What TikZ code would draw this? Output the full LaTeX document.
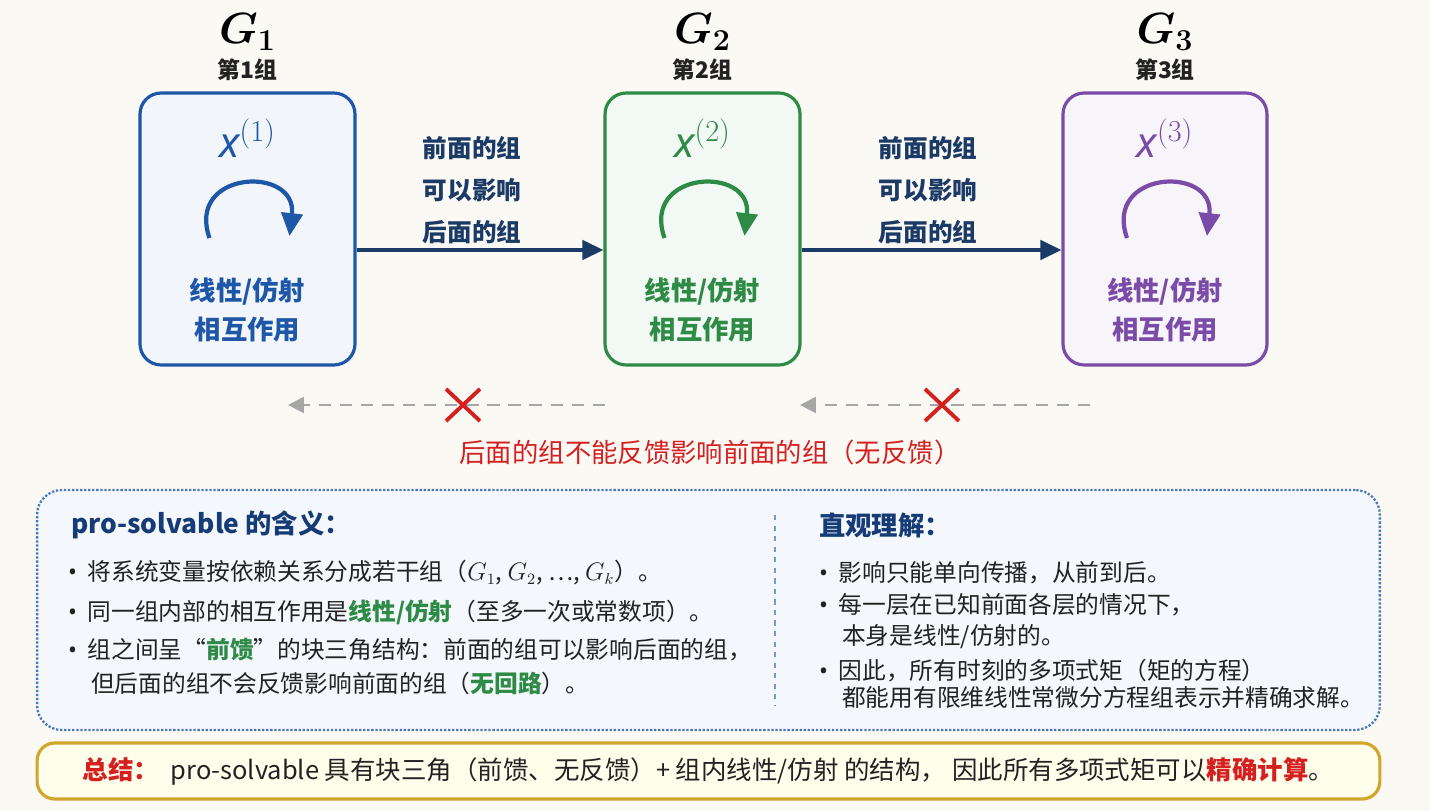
\documentclass[tikz,border=0pt]{standalone}
\usepackage{amsmath}
\usepackage{fontspec}
\setmainfont{Noto Sans CJK SC}
\newfontfamily\lat{Noto Sans}
\usetikzlibrary{arrows.meta}
\definecolor{bg}{HTML}{FAF9F4}
\definecolor{cb}{HTML}{1E56A8}
\definecolor{cg}{HTML}{2E8B46}
\definecolor{cp}{HTML}{7B4BA8}
\definecolor{navy}{HTML}{1B3A66}
\definecolor{dred}{HTML}{D42020}
\definecolor{txt}{HTML}{222222}
\newcommand{\bul}{{\lat\textbullet}\ \ }
\begin{document}
\begin{tikzpicture}[x=0.02cm,y=-0.02cm,
 grp/.style={draw=#1,line width=1.8pt,rounded corners=12pt,fill=#1!6},
 ttl/.style={font=\fontsize{24}{26}\selectfont},
 sub/.style={font=\bfseries\fontsize{13}{15}\selectfont,text=txt},
 var/.style={text=#1,font=\lat\itshape\fontsize{24}{26}\selectfont},
 inner/.style={text=#1,font=\bfseries\fontsize{15}{22}\selectfont,align=center},
 lab/.style={text=navy,font=\bfseries\fontsize{14}{24}\selectfont,align=center},
 flow/.style={navy,line width=2.2pt,-{Triangle[length=12pt,width=11pt]}},
 back/.style={gray!70,line width=1.5pt,dash pattern=on 7pt off 5pt,-{Triangle[length=9pt,width=9pt]}},
 bl/.style={anchor=west,text=txt,font=\fontsize{13.5}{17}\selectfont},
 hd/.style={anchor=west,text=cb!70!black,font=\bfseries\fontsize{15}{17}\selectfont}]
\fill[bg] (0,0) rectangle (1430,811);
\useasboundingbox (0,0) rectangle (1430,811);
% groups
\foreach \n/\xa/\xb/\c/\i in {a/140/355/cb/1,b/605/800/cg/2,c/1063/1267/cp/3}{
 \node[grp=\c,minimum width={(\xb-\xa)*0.02cm},minimum height=5.44cm] (\n) at ({(\xa+\xb)/2},229) {};
 \node[ttl] (t\n) at ({(\xa+\xb)/2},32) {$\boldsymbol{G_{\i}}$};
 \node[sub] (s\n) at ({(\xa+\xb)/2},70) {第\i 组};
 \node[var=\c] (v\n) at ({(\xa+\xb)/2},138) {x$^{(\i)}$};
 \node[inner=\c] (i\n) at ({(\xa+\xb)/2},310) {线性/仿射\\相互作用};
 \coordinate (l\n) at ({(\xa+\xb)/2-38},238);
 \coordinate (m\n) at ({(\xa+\xb)/2+42},236);
 \draw[\c,line width=2.4pt,-{Triangle[length=13pt,width=12pt]}] (l\n) .. controls ({(\xa+\xb)/2-62},170) and ({(\xa+\xb)/2+50},165) .. (m\n);
}
\draw[flow] (a.east|-0,250) -- (b.west|-0,250);
\draw[flow] (b.east|-0,250) -- (c.west|-0,250);
\node[lab] (f1) at (472,190) {前面的组\\可以影响\\后面的组};
\node[lab] (f2) at (928,190) {前面的组\\可以影响\\后面的组};
% no feedback
\coordinate (p1) at (605,405); \coordinate (q1) at (288,405);
\coordinate (p2) at (1090,405); \coordinate (q2) at (800,405);
\draw[back] (p1) -- (q1);
\draw[back] (p2) -- (q2);
\foreach \x/\n in {463/x1,942/x2}{
 \node (\n) at (\x,405) {};
 \draw[dred,line width=2.2pt] (\x-17,389) -- (\x+17,421) (\x-17,421) -- (\x+17,389);}
\node[text=dred,font=\fontsize{15}{17}\selectfont] (nf) at (710,452) {后面的组不能反馈影响前面的组（无反馈）};
% panel
\node[draw=cb!80,densely dotted,line width=1.3pt,rounded corners=14pt,fill=cb!5,minimum width=26.86cm,minimum height=4.8cm] (panel) at (708.5,610) {};
\draw[cb!60,dashed,line width=1pt] (775,515) -- (775,705);
\node[hd] (h1) at (65,525) {pro-solvable 的含义：};
\node[hd] (h2) at (813,525) {直观理解：};
\node[bl] (b1) at (62,573) {\bul 将系统变量按依赖关系分成若干组（$G_1$, $G_2$, \dots, $G_k$）。};
\node[bl] (b2) at (62,612) {\bul 同一组内部的相互作用是\textbf{\color{cg}线性/仿射}（至多一次或常数项）。};
\node[bl] (b3) at (62,650) {\bul 组之间呈“\textbf{\color{cg}前馈}”的块三角结构：前面的组可以影响后面的组，};
\node[bl] (b4) at (85,683) {但后面的组不会反馈影响前面的组（\textbf{\color{cg}无回路}）。};
\node[bl] (r1) at (813,573) {\bul 影响只能单向传播，从前到后。};
\node[bl] (r2) at (813,605) {\bul 每一层在已知前面各层的情况下，};
\node[bl] (r3) at (836,637) {本身是线性/仿射的。};
\node[bl] (r4) at (813,671) {\bul 因此，所有时刻的多项式矩（矩的方程）};
\node[bl] (r5) at (836,697) {都能用有限维线性常微分方程组表示并精确求解。};
% summary
\node[draw=brown!70!yellow,line width=1.8pt,rounded corners=10pt,fill=yellow!8,minimum width=26.86cm,minimum height=1.12cm] (sum) at (708.5,771) {};
\node[text=txt,font=\fontsize{14.5}{17}\selectfont] (st) at (708.5,771) {\textbf{\color{dred}总结：}\ \ pro-solvable 具有块三角（前馈、无反馈）+ 组内线性/仿射 的结构， 因此所有多项式矩可以\textbf{\color{dred}精确计算}。};
\end{tikzpicture}
\end{document}
